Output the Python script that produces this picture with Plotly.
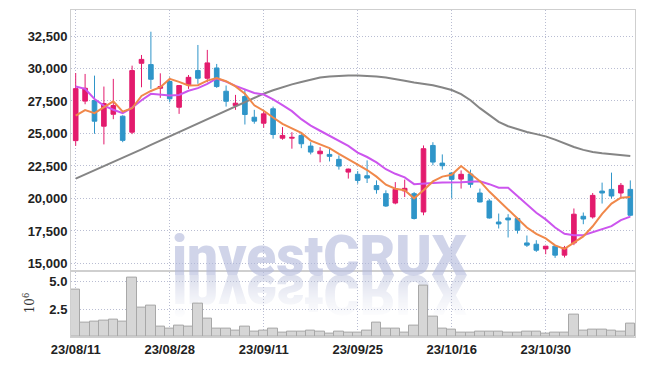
import base64
import plotly.graph_objects as go

dates = ["23/08/11","23/08/14","23/08/16","23/08/17","23/08/18","23/08/21","23/08/22","23/08/23","23/08/24","23/08/25",
         "23/08/28","23/08/29","23/08/30","23/08/31","23/09/01","23/09/04","23/09/05","23/09/06","23/09/07","23/09/08",
         "23/09/11","23/09/12","23/09/13","23/09/14","23/09/15","23/09/18","23/09/19","23/09/20","23/09/21","23/09/22",
         "23/09/25","23/09/26","23/09/27","23/10/04","23/10/05","23/10/06","23/10/10","23/10/11","23/10/12","23/10/13",
         "23/10/16","23/10/17","23/10/18","23/10/19","23/10/20","23/10/23","23/10/24","23/10/25","23/10/26","23/10/27",
         "23/10/30","23/10/31","23/11/01","23/11/02","23/11/03","23/11/06","23/11/07","23/11/08","23/11/09","23/11/10"]

opens = [24450,27490,27535,25560,26480,26330,25100,30400,30300,28480,
         29000,27020,28740,29840,29250,30040,28250,27150,27840,26250,
         25790,26900,24640,24640,24850,24030,23440,23390,23010,22030,
         21860,21750,20990,20370,19650,20580,20370,18960,24080,22720,
         21960,21490,21880,20420,19810,18190,18500,18460,16580,16480,
         16120,16330,15640,16580,18630,18580,20570,20700,20420,20700]
highs = [29650,29580,29450,28610,29200,26400,30220,31040,32830,29630,
         29320,28700,29500,31810,31430,30350,28690,27970,28430,26820,
         26770,27070,25490,25100,25030,24330,23950,23900,23310,22300,
         22110,22930,21390,20630,21260,21450,20500,24080,24330,23390,
         22000,22160,22220,20760,19960,18840,18790,18530,17150,16790,
         16350,16350,16350,19230,18920,20420,21220,21990,21190,21390]
lows = [24050,27250,24980,24160,26100,24330,24950,28555,28430,27740,
        27400,26510,28430,28820,28940,28510,27070,26820,25690,25750,
        25440,24600,24520,23830,23870,23390,22780,22850,22220,21530,
        21140,21190,20370,19350,19550,20110,18380,18710,22550,22220,
        19990,20760,20830,19700,18450,17690,17000,17300,16270,15890,
        15710,15430,15460,16410,18020,18450,19610,19990,19990,18630]
closes = [28450,28480,25945,27300,27150,24470,29840,30700,29170,28610,
          27670,28690,29320,29250,30430,28610,27480,27330,26460,25950,
          26510,24920,24850,24700,24210,23570,23640,23240,22490,22260,
          21390,21570,20680,19420,20700,20780,18460,23830,22800,22520,
          21470,21860,21090,19730,18500,18040,18350,17560,16410,16020,
          16330,15640,16200,18790,18420,20240,20420,20190,21010,18710]

ma5 = [26383,26800,26570,27000,27470,26680,26940,27890,28270,28560,
       29200,28970,28690,28710,29070,29260,29020,28620,28060,27170,
       26750,26230,25740,25390,25040,24450,24190,23870,23430,23040,
       22600,22190,21680,21060,20750,20630,20010,20640,21310,21680,
       21820,22500,21950,21330,20530,19840,19140,18440,17770,17280,
       16930,16390,16120,16600,17080,17860,18810,19610,20060,20110]
ma10 = [28620,28430,27650,27150,26830,26560,26990,27560,28050,28010,
        27930,27960,28290,28490,28820,29230,28990,28660,28390,28120,
        28000,27630,27180,26720,26100,25600,25210,24800,24410,24040,
        23530,23190,22780,22250,21900,21620,21100,21160,21190,21220,
        21220,21250,21290,21320,21100,20830,20820,20190,19550,18900,
        18390,17770,17280,17180,17180,17400,17600,17870,18330,18600]
ma60 = [21525,21840,22150,22470,22780,23100,23450,23780,24120,24450,
        24780,25110,25440,25780,26110,26450,26780,27110,27440,27770,
        28060,28330,28570,28780,28960,29120,29300,29380,29430,29470,
        29470,29440,29380,29300,29200,29060,28920,28830,28710,28540,
        28340,28030,27560,26950,26400,25900,25560,25330,25120,24950,
        24780,24530,24230,23960,23740,23580,23480,23400,23330,23260]

volumes = [4.31,1.28,1.37,1.46,1.54,1.37,5.38,2.68,2.88,0.98,
           0.74,1.07,0.98,3.06,1.63,0.80,0.80,0.62,0.98,0.45,
           0.56,0.80,0.36,0.45,0.45,0.56,0.45,0.27,0.45,0.36,
           0.40,0.56,1.28,0.74,0.80,0.36,1.04,4.67,1.87,0.80,
           0.65,0.41,0.36,0.45,0.45,0.45,0.36,0.36,0.45,0.45,
           0.27,0.36,0.36,2.05,0.62,0.71,0.71,0.62,0.45,1.25]
volumes = [v * 1e6 for v in volumes]

price_ticks = [15000, 17500, 20000, 22500, 25000, 27500, 30000, 32500]
vol_ticks = [2.5e6, 5.0e6]
vol_tick_text = ["2.5", "5.0"]
x_tick_labels = ["23/08/11", "23/08/28", "23/09/11", "23/09/25", "23/10/16", "23/10/30"]

UP = "#e31b6d"
DOWN = "#2f95c9"
tick_font = dict(family="Liberation Sans, Arial, sans-serif", size=13, color="#222222", weight="bold")
GRID = "#b9bdd2"
GDASH = "1px,2px"
WM_FONT = "Roboto, Liberation Sans, sans-serif"

fig = go.Figure()
fig.add_trace(go.Candlestick(
    x=dates, open=opens, high=highs, low=lows, close=closes,
    increasing=dict(line=dict(color=UP, width=1), fillcolor=UP),
    decreasing=dict(line=dict(color=DOWN, width=1), fillcolor=DOWN),
    whiskerwidth=0, showlegend=False, xaxis="x", yaxis="y", hoverinfo="skip"))
fig.add_trace(go.Scatter(x=dates, y=ma60, mode="lines", line=dict(color="#858585", width=2),
                         showlegend=False, xaxis="x", yaxis="y", hoverinfo="skip"))
fig.add_trace(go.Scatter(x=dates, y=ma10, mode="lines", line=dict(color="#cc55ee", width=2),
                         showlegend=False, xaxis="x", yaxis="y", hoverinfo="skip"))
fig.add_trace(go.Scatter(x=dates, y=ma5, mode="lines", line=dict(color="#f0884a", width=2),
                         showlegend=False, xaxis="x", yaxis="y", hoverinfo="skip"))
fig.add_trace(go.Bar(x=dates, y=volumes, marker=dict(color="#d6d6d6", line=dict(color="#a8a8a8", width=1)),
                     showlegend=False, xaxis="x2", yaxis="y2", hoverinfo="skip"))

# faint mirrored copy of the watermark (decorative reflection)
svg = ('<svg xmlns="http://www.w3.org/2000/svg" width="400" height="60" viewBox="0 0 400 60">'
       '<defs><linearGradient id="g" x1="0" y1="0" x2="0" y2="1">'
       '<stop offset="0" stop-color="#fff" stop-opacity="0.8"/>'
       '<stop offset="0.4" stop-color="#fff" stop-opacity="0.3"/>'
       '<stop offset="0.75" stop-color="#fff" stop-opacity="0"/></linearGradient>'
       '<mask id="m"><rect x="0" y="0" width="400" height="60" fill="url(#g)"/></mask></defs>'
       '<g mask="url(#m)"><g transform="scale(1,-1)">'
       '<text x="200" y="0" text-anchor="middle" font-family="Roboto, Liberation Sans, sans-serif" '
       'font-weight="900" font-size="55" fill="#d2d6e8">investCRUX</text></g></g></svg>')
src = "data:image/svg+xml;base64," + base64.b64encode(svg.encode()).decode()

# page body has an 8px default margin: figure is sized to fit the 645x366 window
fig.update_layout(
    width=629, height=350,
    margin=dict(l=63, r=2, t=1, b=20),
    paper_bgcolor="white", plot_bgcolor="white",
    bargap=0,
    xaxis=dict(domain=[0, 1], anchor="y", type="category", range=[-0.5, 59.5],
               rangeslider=dict(visible=False), showticklabels=False,
               tickvals=x_tick_labels, showgrid=True, gridcolor=GRID, griddash=GDASH,
               showline=True, linecolor="#cfcfcf", mirror=True, ticks=""),
    yaxis=dict(domain=[0.205, 1], anchor="x", range=[14500, 34500], tickvals=price_ticks,
               tickformat=",", tickfont=tick_font, showgrid=True, gridcolor=GRID, griddash=GDASH,
               showline=True, linecolor="#cfcfcf", mirror=True, ticks="", zeroline=False),
    xaxis2=dict(domain=[0, 1], anchor="y2", type="category", range=[-0.5, 59.5],
                tickvals=x_tick_labels, ticktext=x_tick_labels, tickfont=tick_font,
                showgrid=True, gridcolor=GRID, griddash=GDASH, matches="x",
                showline=True, linecolor="#cfcfcf", mirror=True, ticks=""),
    yaxis2=dict(domain=[0, 0.2], anchor="x2", range=[0, 5.92e6], tickvals=vol_ticks,
                ticktext=vol_tick_text, tickfont=tick_font, showgrid=True, gridcolor=GRID,
                griddash=GDASH, showline=True, linecolor="#cfcfcf", mirror=True, ticks="",
                zeroline=False),
    annotations=[
        dict(text="investCRUX", xref="paper", yref="paper", x=0.441, y=0.249,
             xanchor="center", yanchor="middle", showarrow=False,
             font=dict(family=WM_FONT, size=55, color="rgba(176,184,218,0.6)", weight=900)),
        dict(text="10<sup>6</sup>", xref="paper", yref="paper", x=-0.075, y=0.105,
             xanchor="center", yanchor="middle", showarrow=False, textangle=-90,
             font=dict(family="DejaVu Serif", size=12, color="#333333")),
    ],
    images=[dict(source=src, xref="paper", yref="paper", x=0.441, y=0.19,
                 sizex=400/564, sizey=60/329, xanchor="center", yanchor="top",
                 sizing="stretch", layer="below")],
)

fig.write_html("out.html")
